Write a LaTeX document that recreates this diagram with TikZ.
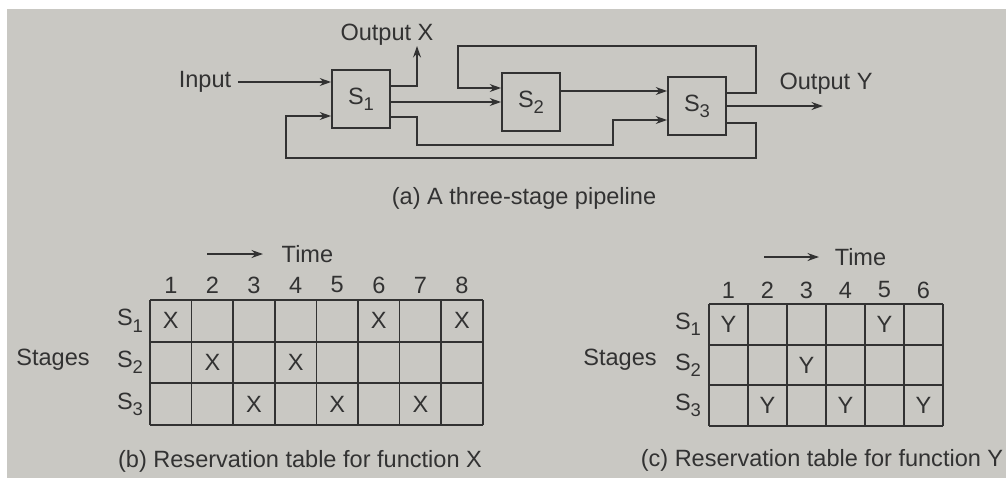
\documentclass[tikz,border=0pt]{standalone}
\usepackage{fontspec}
\setmainfont{Liberation Sans}
\usetikzlibrary{arrows.meta}
\usetikzlibrary{calc,positioning}

\definecolor{paper}{RGB}{201,200,195}
\definecolor{ink}{RGB}{50,50,50}

\newcommand{\stg}[1]{S\raisebox{-0.5ex}{\fontsize{10.5}{12}\selectfont#1}}

\tikzset{
  stage/.style={draw, minimum width=1.16cm, minimum height=1.16cm, inner sep=0pt},
  cellmark/.style={inner sep=0pt},
}

\begin{document}
\begin{tikzpicture}[>={Stealth[length=6.5pt,width=4.5pt]}, x=0.02cm, y=-0.02cm,
    line width=1pt, color=ink, font=\fontsize{13.4}{16}\selectfont]

    \useasboundingbox (0,0) rectangle (1006,478);
    \fill[white] (0,0) rectangle (1006,478);
    \fill[paper] (7,9) rectangle (1006,478);

    % three-stage pipeline
    \node[stage] (S1) at (361,99) {\stg{1}};
    \node[stage] (S2) at (531,102) {\stg{2}};
    \node[stage] (S3) at (697,106) {\stg{3}};

    \node (in) at (205,82) {Input};
    \node (outX) at (387,35) {Output X};
    \node (outY) at (826,84) {Output Y};
    \coordinate (xtip) at (417,46);
    \coordinate (ytip) at (823,106);

    \draw[->] (in.east) -- (in.east -| S1.west);
    \draw[->] ($(S1.east)+(0,-13)$) -| (xtip);
    \draw[->] (S1.east |- S2.west) -- (S2.west);
    \draw[->] ($(S1.east)+(0,18)$) -- ++(26,0) -- ++(0,28)
        -| ($(S3.west)+(-54,14)$) -- ($(S3.west)+(0,14)$);
    \draw[->] ($(S2.east)+(0,-11)$) -- ($(S3.west)+(0,-15)$);
    \draw[->] ($(S3.east)+(0,-13)$) -- ++(29,0) -- ++(0,-47)
        -| ($(S2.west)+(-43,-14)$) -- ($(S2.west)+(0,-14)$);
    \draw[->] ($(S3.east)+(0,17)$) -- ++(29,0) |- ($(S1.west)+(-45,59)$)
        -- ($(S1.west)+(-45,17)$) -- ($(S1.west)+(0,17)$);
    \draw[->] (S3.east) -- (S3.east -| ytip);

    \node (capa) at (524,198) {(a) A three-stage pipeline};

    % reservation table for function X
    \foreach \i in {0,...,8}
        \draw ({150+41.6*\i},300) -- ({150+41.6*\i},425);
    \foreach \j in {0,...,3}
        \draw (150,{300+41.67*\j}) -- (483,{300+41.67*\j});
    \foreach \c in {1,...,8}
        \node (nb\c) at ({150+41.6*(\c-0.5)},285) {\c};
    \foreach \r in {1,2,3}
        \node (sb\r) at (130,{300+41.67*(\r-0.5)}) {\stg{\r}};
    \foreach \c/\r in {1/1,6/1,8/1,2/2,4/2,3/3,5/3,7/3}
        \node[cellmark] (xb\c\r) at ({150+41.6*(\c-0.5)},{300+41.67*(\r-0.5)}) {X};
    \node (stb) at (53,360) {Stages};
    \node[anchor=west] (timeb) at (275,254) {Time};
    \draw[->] ($(timeb.west)+(-68,0)$) -- ($(timeb.west)+(-12,0)$);
    \node (capb) at (300,461) {(b) Reservation table for function X};

    % reservation table for function Y
    \foreach \i in {0,...,6}
        \draw ({709+39*\i},304) -- ({709+39*\i},426);
    \foreach \j in {0,...,3}
        \draw (709,{304+40.67*\j}) -- (943,{304+40.67*\j});
    \foreach \c in {1,...,6}
        \node (nc\c) at ({709+39*(\c-0.5)},290) {\c};
    \foreach \r in {1,2,3}
        \node (sc\r) at (688,{304+40.67*(\r-0.5)}) {\stg{\r}};
    \foreach \c/\r in {1/1,5/1,3/2,2/3,4/3,6/3}
        \node[cellmark] (yc\c\r) at ({709+39*(\c-0.5)},{304+40.67*(\r-0.5)}) {Y};
    \node (stc) at (620,360) {Stages};
    \node[anchor=west] (timec) at (828,257) {Time};
    \draw[->] ($(timec.west)+(-64,0)$) -- ($(timec.west)+(-9,0)$);
    \node (capc) at (822,460) {(c) Reservation table for function Y};

\end{tikzpicture}
\end{document}
